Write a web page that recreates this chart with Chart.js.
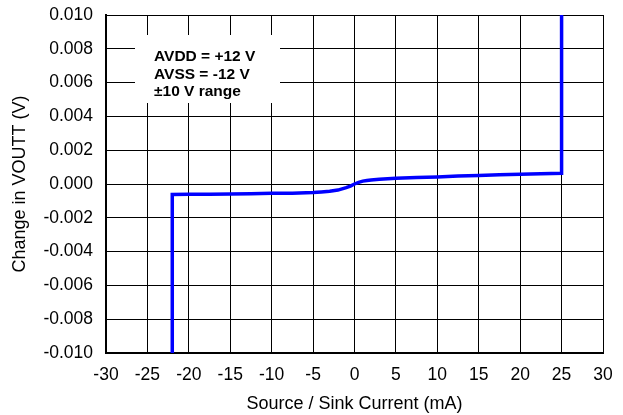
<!DOCTYPE html>
<html>
<head>
<meta charset="utf-8">
<script src="https://cdn.jsdelivr.net/npm/chart.js@4"></script>
<style>
  html, body { margin: 0; padding: 0; background: #fff; }
  #wrap { width: 623px; height: 415px; }
</style>
</head>
<body>
<div id="wrap"><canvas id="outputChart" width="623" height="415"></canvas></div>
<script>
// Source / sink current (mA) and change in VOUT (V)
const currentMA = [-22, -22, -20, -17.5, -15, -12.5, -10, -7.5, -5, -4, -3, -2, -1, -0.5, 0, 0.5, 1, 1.5, 2, 3, 5, 7.5, 10, 12.5, 15, 17.5, 20, 22.5, 25, 25];
const deltaV = [-0.010, -0.00062, -0.00061, -0.0006, -0.00059, -0.00057, -0.00055, -0.00054, -0.00051, -0.00047, -0.00043, -0.00036, -0.00022, -0.00012, 0.00000, 0.00010, 0.00017, 0.00021, 0.00024, 0.00028, 0.00034, 0.00038, 0.00042, 0.00047, 0.00051, 0.00054, 0.00057, 0.0006, 0.00064, 0.010];

const xTicks = [-30, -25, -20, -15, -10, -5, 0, 5, 10, 15, 20, 25, 30];
const yTicks = [-0.010, -0.008, -0.006, -0.004, -0.002, 0.000, 0.002, 0.004, 0.006, 0.008, 0.010];
const noteLines = ['AVDD = +12 V', 'AVSS = -12 V', '\u00b110 V range'];

const FONT = '"Liberation Sans", Arial, sans-serif';
Chart.defaults.font.family = FONT;
Chart.defaults.color = '#000';

const points = currentMA.map((x, i) => ({ x: x, y: deltaV[i] }));

// white note box in the upper left of the plot
const notePlugin = {
    id: 'noteBox',
    beforeDatasetsDraw(chart) {
        const ctx = chart.ctx;
        const a = chart.chartArea;
        ctx.save();
        ctx.fillStyle = '#fff';
        ctx.fillRect(a.left + 29, a.top + 20, 145, 68);
        ctx.fillStyle = '#000';
        ctx.font = 'bold 15.5px ' + FONT;
        ctx.textBaseline = 'alphabetic';
        noteLines.forEach((t, i) => {
            ctx.fillText(t, a.left + 48, a.top + 46 + i * 17.5);
        });
        ctx.restore();
    }
};

new Chart(document.getElementById('outputChart'), {
    type: 'scatter',
    data: {
        datasets: [{
            data: points,
            showLine: true,
            borderColor: '#0000ff',
            backgroundColor: '#0000ff',
            borderWidth: 3.5,
            pointRadius: 0,
            tension: 0
        }]
    },
    options: {
        responsive: false,
        animation: false,
        layout: { padding: { top: 15, right: 20, left: 0, bottom: 0 } },
        plugins: {
            legend: { display: false },
            tooltip: { enabled: false }
        },
        scales: {
            x: {
                type: 'linear',
                min: -30,
                max: 30,
                afterBuildTicks: s => { s.ticks = xTicks.map(v => ({ value: v })); },
                afterFit: s => {
                    s.height = 62;
                    s.paddingLeft = 0;
                    s.paddingRight = 0;
                },
                grid: { color: '#000', lineWidth: 1, drawTicks: false },
                border: { color: '#000', width: 2 },
                ticks: { font: { size: 17.5 }, padding: 12, maxRotation: 0 },
                title: {
                    display: true,
                    text: 'Source / Sink Current (mA)',
                    font: { size: 18 },
                    padding: { top: 4, bottom: 0 }
                }
            },
            y: {
                min: -0.010,
                max: 0.010,
                afterBuildTicks: s => { s.ticks = yTicks.map(v => ({ value: v })); },
                afterFit: s => {
                    s.width = 106;
                    s.paddingTop = 0;
                    s.paddingBottom = 0;
                },
                grid: { color: '#000', lineWidth: 1, drawTicks: false },
                border: { color: '#000', width: 2 },
                ticks: {
                    font: { size: 17.5 },
                    padding: 13,
                    callback: v => v.toFixed(3)
                },
                title: {
                    display: true,
                    text: 'Change in VOUTT (V)',
                    font: { size: 18 },
                    padding: { top: 9, bottom: 0 }
                }
            }
        }
    },
    plugins: [notePlugin]
});
</script>
</body>
</html>
